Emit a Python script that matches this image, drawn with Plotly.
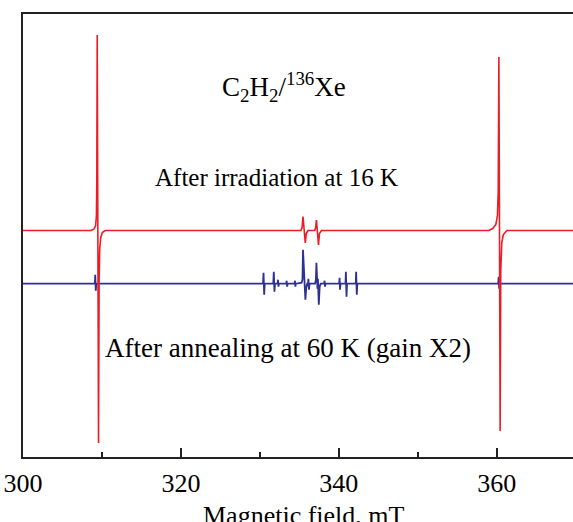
import plotly.graph_objects as go

# ---- data (field in mT, signal in arbitrary units relative to each trace baseline) ----
red_field = [300, 308.6, 309.0, 309.2, 309.3, 309.35, 309.40, 309.48, 309.57, 309.64, 309.72, 309.85, 310.05, 310.4,
             335.2, 335.35, 335.47, 335.62, 335.76, 335.88, 336.1,
             336.95, 337.07, 337.17, 337.3, 337.43, 337.55, 337.8,
             359.0, 359.5, 359.9, 360.1, 360.2, 360.28, 360.36, 360.44, 360.52, 360.65, 360.85, 361.3, 370]
red_signal = [0, 0, 1.5, 5, 15, 50, 195.5, 0, -212.5, -50, -18, -7, -2, 0,
              0, 3, 14, 0, -12.5, -3, 0,
              0, 3, 10.5, 0, -14.5, -3, 0,
              0, 2, 6, 15, 40, 173.5, 0, -200.5, -40, -12, -4, 0, 0]

blue_field = [300,
              309.10, 309.15, 309.22, 309.28,
              330.40, 330.47, 330.55, 330.62,
              331.70, 331.77, 331.85, 331.92,
              332.25, 332.30, 332.36, 332.42,
              333.35, 333.40, 333.46, 333.52,
              334.40, 334.45, 334.50, 334.56,
              335.30, 335.40, 335.47, 335.62, 335.77, 335.88, 336.00,
              336.10, 336.15, 336.22, 336.30,
              337.00, 337.10, 337.17, 337.30, 337.36, 337.47, 337.58, 337.70,
              338.15, 338.20, 338.26, 338.32,
              340.05, 340.10, 340.16, 340.22,
              340.85, 340.90, 340.98, 341.05,
              342.15, 342.20, 342.28, 342.35,
              360.20, 360.25, 360.32, 360.40,
              370]
blue_signal = [0,
               0, 9, -7, 0,
               0, 11, -11, 0,
               0, 12, -8, 0,
               0, 4, -3, 0,
               0, 3, -3, 0,
               0, 3, -3, 0,
               1, 4, 34, 0, -16, -4, 0,
               0, 5, -6, 0,
               0, 4, 21, -5, 5, -21, -3, 0,
               0, 3, -3, 0,
               0, 6, -6, 0,
               0, 12, -13, 0,
               0, 12, -11, 0,
               0, 7, -5, 0,
               0]

red_offset = 0
blue_offset = -53.2
x_ticks = [300, 320, 340, 360]
x_title = "Magnetic field, mT"

labels = ["C<sub>2</sub>H<sub>2</sub>/<sup>136</sup>Xe",
          "After irradiation at 16 K",
          "After annealing at 60 K (gain X2)"]
label_x = [333.0, 332.1, 333.6]
label_y = [144, 53, -117.5]
label_size = [27, 25, 27]

fig = go.Figure()
fig.add_trace(go.Scatter(x=blue_field, y=[v + blue_offset for v in blue_signal], mode="lines",
                         line=dict(color="#2e3192", width=1.8), hoverinfo="skip"))
fig.add_trace(go.Scatter(x=red_field, y=[v + red_offset for v in red_signal], mode="lines",
                         line=dict(color="#ed1c24", width=1.6), hoverinfo="skip"))

font_family = "Liberation Serif, Times New Roman, serif"
for t, x, y, s in zip(labels, label_x, label_y, label_size):
    fig.add_annotation(x=x, y=y, xref="x", yref="y", text=t, showarrow=False,
                       font=dict(family=font_family, size=s, color="black"),
                       xanchor="center", yanchor="middle")

# x-axis title placed below the tick labels (partly cut by the bottom edge, as in the original)
fig.add_annotation(x=335.63, y=0, xref="x", yref="paper", text=x_title, showarrow=False,
                   font=dict(family=font_family, size=26, color="black"),
                   xanchor="center", yanchor="top", yshift=-42)

fig.update_layout(
    width=573, height=522,
    margin=dict(l=23, r=0, t=14, b=65, autoexpand=False),
    paper_bgcolor="white", plot_bgcolor="white",
    showlegend=False,
    font=dict(family=font_family, size=26, color="black"),
)
fig.update_xaxes(range=[300, 369.67], tickvals=x_ticks, ticks="inside", ticklen=9, tickwidth=1.5,
                 tickcolor="#222", showline=True, linecolor="#222", linewidth=2, mirror=True,
                 showgrid=False, zeroline=False, ticklabeloverflow="allow", automargin=False,
                 ticklabelstandoff=2,
                 minor=dict(ticks="inside", dtick=10, tick0=300, ticklen=5, tickwidth=1.5, tickcolor="#222"),
                 tickfont=dict(family=font_family, size=26, color="black"))
fig.update_yaxes(range=[-226.5, 216.5], showticklabels=False, ticks="", showline=True, linecolor="#222",
                 linewidth=2, mirror=False, showgrid=False, zeroline=False, automargin=False)

fig.write_html("out.html", config={"displayModeBar": False},
               post_script="document.body.style.margin='0';")
